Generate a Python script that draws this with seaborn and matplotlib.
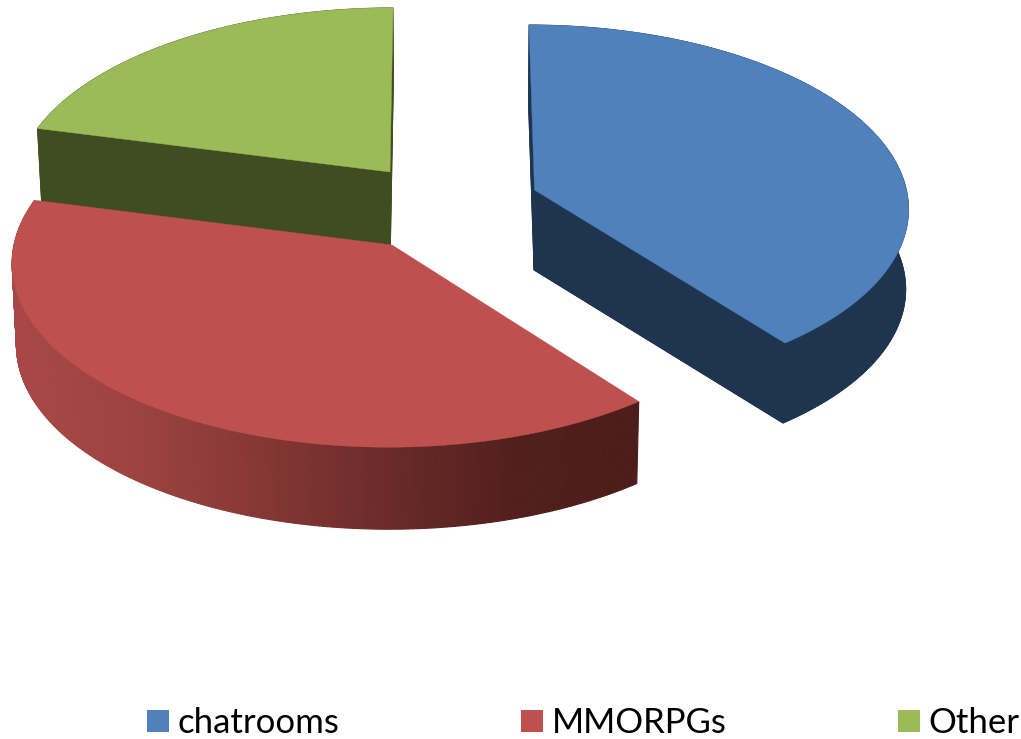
import numpy as np
import matplotlib
matplotlib.use('Agg')
import matplotlib.pyplot as plt
from matplotlib.patches import Patch
import seaborn as sns

# data
categories = ['chatrooms', 'MMORPGs', 'Other']
values = [39.5, 39.5, 21.0]

# colours
top_colors = ['#4F81BD', '#BE504D', '#9BBB59']
wall_colors = ['#1F344F', None, '#404D20']
red_wall = ['#A84846', '#9C4341', '#853735', '#6A2B29', '#521F1D', '#4C1D1B']

sns.set_theme(style='white')
plt.rcParams['font.family'] = ['Lato', 'DejaVu Sans']

# fake 3d look, one entry per slice: apex x, apex y, half width, depth, wall height
apex_x = [534.5, 392, 390]
apex_y = [190, 245, 172]
half_w = [372, 378, 373]
radius_y = [180, 184, 179]
wall_h = [80, 82, 73]
bottom_scale = [0.994, 0.99, 0.99]
persp = 0.09
vanish_x = 441
lean = 0.064

# left edge of each legend entry, in pixels
legend_x = [147, 521, 898]


def project(i, theta, r=1.0):
    u = r * np.sin(theta)
    v = r * np.cos(theta)
    d = 1 + persp * v
    up, vp = u / d, v / d
    x = vanish_x + (apex_x[i] - vanish_x) * (1 - lean * vp) + half_w[i] * up
    y = apex_y[i] - radius_y[i] * vp
    return x, y


def to_bottom(i, x, y):
    return vanish_x + (x - vanish_x) * bottom_scale[i], y + wall_h[i]


fig, ax = plt.subplots(figsize=(10.21, 7.39), dpi=100)
fig.subplots_adjust(0, 0, 1, 1)
ax.set_xlim(0, 1021)
ax.set_ylim(739, 0)
ax.axis('off')

# start and end angle of every slice, clockwise from 12 o'clock
ends = np.cumsum(values) / np.sum(values) * 2 * np.pi
starts = np.r_[0, ends[:-1]]
grad = sns.blend_palette(red_wall, 256)

# back slice first
for i in [2, 1, 0]:
    th = np.linspace(starts[i], ends[i], 240)
    ax_, ay_ = project(i, 0.0, 0.0)
    xs, ys = project(i, th)
    x_top = np.r_[ax_, xs]
    y_top = np.r_[ay_, ys]
    x_bot, y_bot = to_bottom(i, x_top, y_top)

    if wall_colors[i] is not None:
        wall = wall_colors[i]
        ax.fill(x_bot, y_bot, color=wall, lw=0.5)
        # the two cut faces
        for k in (1, len(x_top) - 1):
            ax.fill([x_top[0], x_top[k], x_bot[k], x_bot[0]],
                    [y_top[0], y_top[k], y_bot[k], y_bot[0]], color=wall, lw=0.5)
        # outer rim
        ax.fill(np.r_[x_top[1:], x_bot[1:][::-1]], np.r_[y_top[1:], y_bot[1:][::-1]], color=wall, lw=0.5)
    else:
        # rim shaded left to right
        for k in range(1, len(x_top) - 1):
            t = np.clip((x_top[k] - 12) / (640 - 12), 0, 1)
            c = grad[int(t * 255)]
            ax.fill([x_top[k], x_top[k + 1], x_bot[k + 1], x_bot[k]],
                    [y_top[k], y_top[k + 1], y_bot[k + 1], y_bot[k]], color=c, lw=0.8)

    ax.fill(x_top, y_top, color=top_colors[i], lw=0.3)

# one legend per entry, the gaps in the original are not even with this font
for name, col, lx in zip(categories, top_colors, legend_x):
    leg = ax.legend(handles=[Patch(facecolor=col, edgecolor='none', label=name)], frameon=False,
                    fontsize=25, loc='lower left', bbox_to_anchor=(lx / 1021, 0.0),
                    borderpad=0, borderaxespad=0, handlelength=0.62, handleheight=0.62,
                    handletextpad=0.26, labelcolor='black')
    ax.add_artist(leg)
ax.legend_ = None  # otherwise the last one gets drawn twice

fig.savefig('out.png', dpi=100)
